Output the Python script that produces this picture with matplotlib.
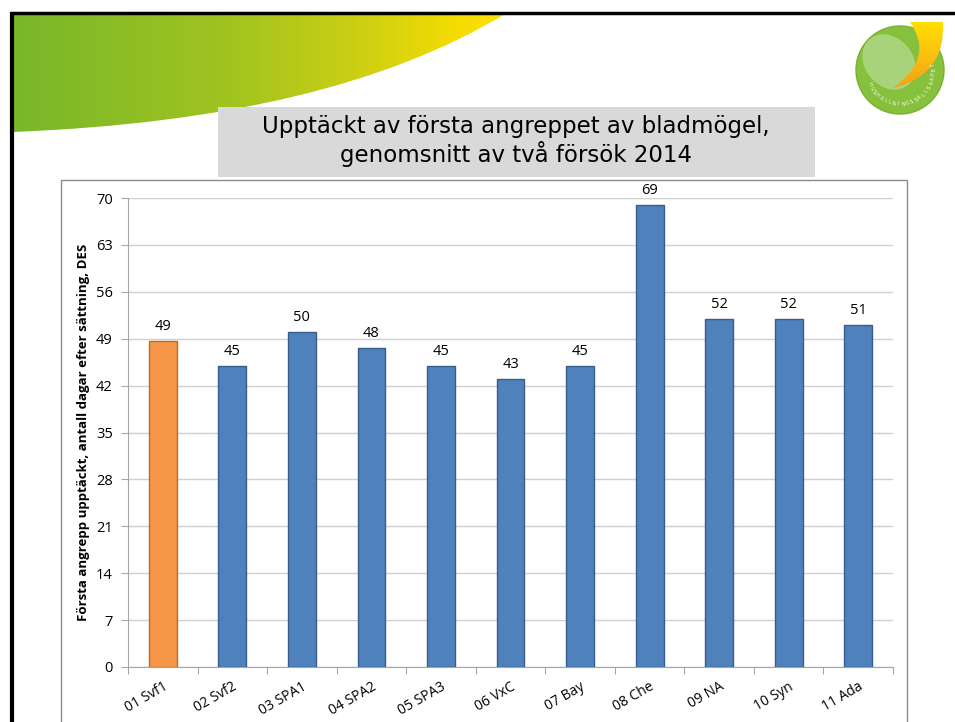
import numpy as np
import matplotlib
matplotlib.use("Agg")
import matplotlib.pyplot as plt
from matplotlib.path import Path
from matplotlib.patches import PathPatch, Rectangle, Circle, Ellipse
from matplotlib.colors import LinearSegmentedColormap

# data
categories = ["01 Svf1", "02 Svf2", "03 SPA1", "04 SPA2", "05 SPA3", "06 VxC",
              "07 Bay", "08 Che", "09 NA", "10 Syn", "11 Ada"]
values = [48.6, 45, 50, 47.6, 45, 43, 45, 69, 52, 52, 51]
value_labels = ["49", "45", "50", "48", "45", "43", "45", "69", "52", "52", "51"]
yticks = list(range(0, 71, 7))
title = "Upptäckt av första angreppet av bladmögel,\ngenomsnitt av två försök 2014"
ylabel = "Första angrepp upptäckt, antall dagar efter sättning, DES"

W, H = 955, 722
fig = plt.figure(figsize=(W / 100, H / 100), dpi=100)
fig.patch.set_facecolor("white")

# background (slide) in pixel coords
bg = fig.add_axes([0, 0, 1, 1], zorder=0)
bg.set_xlim(0, W)
bg.set_ylim(H, 0)
bg.axis("off")

# green/yellow swoosh
grad_cmap = LinearSegmentedColormap.from_list(
    "swoosh", [(0, "#78b72a"), (0.45, "#a2c41f"), (0.72, "#cfd012"),
               (0.9, "#f4dc02"), (1, "#ffe200")])
grad = np.linspace(0, 1, 256).reshape(1, -1)
im = bg.imshow(grad, cmap=grad_cmap, extent=[12, 505, 135, 13], aspect="auto", zorder=1)
swoosh = Path([(12, 13), (505, 13), (505, 14), (330, 120), (12, 132), (12, 13)],
              [Path.MOVETO, Path.LINETO, Path.LINETO, Path.CURVE3, Path.CURVE3, Path.CLOSEPOLY])
clip = PathPatch(swoosh, transform=bg.transData, facecolor="none", edgecolor="none")
bg.add_patch(clip)
im.set_clip_path(clip)

# slide border
bg.plot([11.5, 11.5], [12, H], color="black", lw=3, zorder=3, solid_capstyle="butt")
bg.plot([10, W], [13, 13], color="black", lw=2.5, zorder=3, solid_capstyle="butt")

# logo
cx, cy = 900, 70
bg.add_patch(Circle((cx, cy), 44, facecolor="#86c03c", edgecolor="#78b232", lw=1, zorder=2))
bg.add_patch(Ellipse((889, 62), 48, 60, angle=-40, facecolor="#b3d98c",
                     edgecolor="none", alpha=0.8, zorder=2))
crescent = Path([(910, 22), (943, 22), (946, 75), (893, 88), (935, 58), (910, 22), (910, 22)],
                [Path.MOVETO, Path.LINETO, Path.CURVE3, Path.CURVE3,
                 Path.CURVE3, Path.CURVE3, Path.CLOSEPOLY])
cres_cmap = LinearSegmentedColormap.from_list("cres", ["#ffe000", "#fbc010", "#f5a016"])
cres_patch = PathPatch(crescent, facecolor="none", edgecolor="none", zorder=2)
bg.add_patch(cres_patch)
cim = bg.imshow(np.linspace(0, 1, 64).reshape(-1, 1), cmap=cres_cmap,
                extent=[890, 946, 90, 20], aspect="auto", zorder=2.5)
cim.set_clip_path(cres_patch)
logo_txt = "HUSHÅLLNINGSSÄLLSKAPET"
angs = np.linspace(205, 368, len(logo_txt))
for ch, a in zip(logo_txt, angs):
    r = np.radians(a)
    bg.text(cx + 34 * np.cos(r), cy - 34 * np.sin(r), ch, fontsize=3.6,
            color="white", ha="center", va="center", rotation=a + 90, zorder=3)

# chart frame
bg.add_patch(Rectangle((61, 180), 846, 560, facecolor="white", edgecolor="#8c8c8c",
                       lw=1, zorder=2))

# title box
bg.add_patch(Rectangle((218, 107), 597, 70, facecolor="#d9d9d9", edgecolor="none", zorder=4))
bg.text(516, 141, title, fontsize=16.5, family="DejaVu Sans", ha="center", va="center",
        linespacing=1.12, zorder=5)

# chart
ax = fig.add_axes([128 / W, 1 - 667 / H, (893 - 128) / W, (667 - 198) / H], zorder=2)
ax.patch.set_alpha(0)
x = np.arange(len(categories))
colors = ["#f79646"] + ["#4f81bd"] * (len(categories) - 1)
edges = ["#b66d31"] + ["#385d8a"] * (len(categories) - 1)
ax.bar(x, values, width=0.4, color=colors, edgecolor=edges, linewidth=1, zorder=3)
for xi, v, lab in zip(x, values, value_labels):
    ax.annotate(lab, (xi, v), xytext=(0, 5), textcoords="offset points",
                ha="center", va="bottom", fontsize=10.5, family="Open Sans")

ax.set_xlim(-0.5, len(categories) - 0.5)
ax.set_ylim(0, 70)
ax.set_yticks(yticks)
ax.yaxis.grid(True, color="#d0d0d0", lw=1)
ax.set_axisbelow(True)
for s in ["top", "right"]:
    ax.spines[s].set_visible(False)
ax.spines["left"].set_color("#a6a6a6")
ax.spines["bottom"].set_color("#a6a6a6")
ax.tick_params(axis="y", length=5, color="#a6a6a6", labelsize=10.5, pad=6)
ax.set_yticklabels([str(t) for t in yticks], family="Open Sans")

ax.set_xticks(np.arange(len(categories) + 1) - 0.5)
ax.set_xticklabels([])
ax.tick_params(axis="x", length=5, color="#a6a6a6")
for xi, lab in zip(x, categories):
    ax.annotate(lab, (xi, 0), xycoords=("data", "axes fraction"), xytext=(0, -9),
                textcoords="offset points", ha="right", va="top", rotation=30,
                rotation_mode="anchor", fontsize=10, family="Open Sans",
                annotation_clip=False)

ax.set_ylabel(ylabel, fontsize=9.5, fontweight="bold", family="Open Sans", labelpad=4)

fig.savefig("out.png", dpi=100)
